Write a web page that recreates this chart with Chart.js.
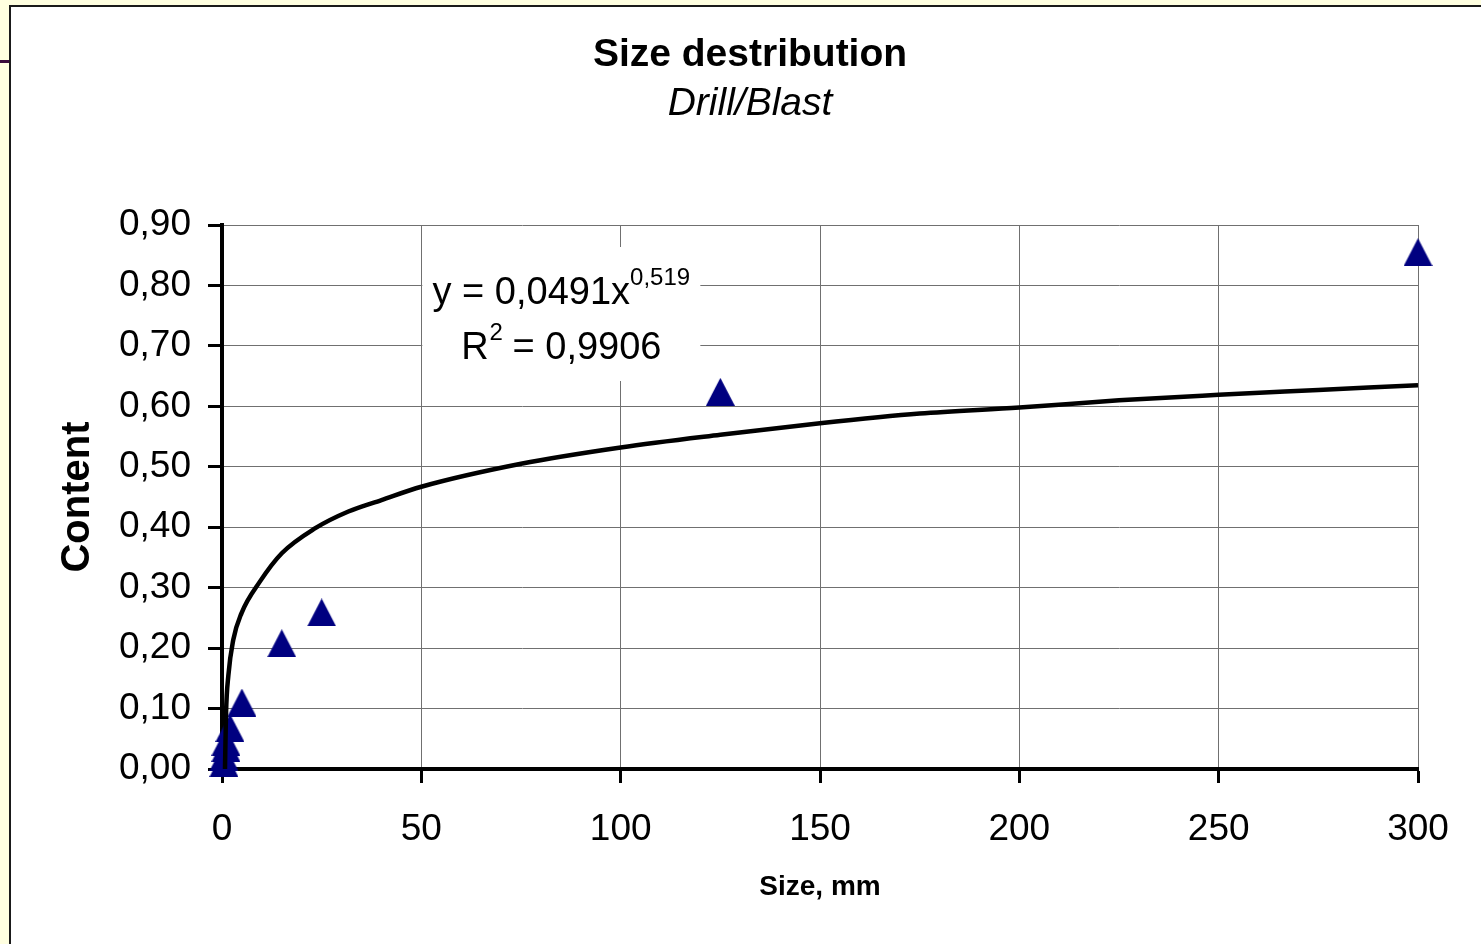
<!DOCTYPE html>
<html>
<head>
<meta charset="utf-8">
<title>Size destribution</title>
<script src="https://cdn.jsdelivr.net/npm/chart.js@4.4.1/dist/chart.umd.min.js"></script>
<style>
    html, body { margin: 0; padding: 0; width: 1481px; height: 944px; overflow: hidden; background: #ffffe0; }
    #sheet { position: absolute; left: 9px; top: 5px; right: -10px; bottom: -10px; background: #fff; border-left: 2px solid #1a1a1a; border-top: 2px solid #1a1a1a; }
    #mark { position: absolute; left: 0; top: 60px; width: 9px; height: 3px; background: #3b0b3b; }
    #sizeChart { position: absolute; left: 0; top: 0; }
</style>
</head>
<body>
<div id="mark"></div>
<div id="sheet"></div>
<canvas id="sizeChart" width="1481" height="944"></canvas>
<script>
// measured points: size (mm) and content
var sizeMm = [0.5, 0.5, 1, 1, 2, 5, 15, 25, 125, 300];
var content = [0.01, 0.02, 0.035, 0.045, 0.068, 0.11, 0.208, 0.259, 0.624, 0.855];

// power trend line as it is drawn in the picture
var trendX = [0.75, 1, 1.6, 2.8, 4.9, 9.5, 15, 23.3, 31.7, 40, 50, 75, 100, 125, 150, 175, 200, 225, 250, 275, 300];
var trendY = [0, 0.09, 0.155, 0.213, 0.258, 0.31, 0.357, 0.398, 0.426, 0.445, 0.467, 0.505, 0.532, 0.553, 0.572, 0.588, 0.598, 0.61, 0.619, 0.627, 0.635];

// axis ticks
var xTickValues = [0, 50, 100, 150, 200, 250, 300];
var yTickValues = [0, 0.1, 0.2, 0.3, 0.4, 0.5, 0.6, 0.7, 0.8, 0.9];

// trend line label
var eqMain = "y = 0,0491x";
var eqPower = "0,519";
var r2Main = "R";
var r2Power = "2";
var r2Value = " = 0,9906";

var fontFamily = "'Liberation Sans', Arial, sans-serif";
Chart.defaults.font.family = fontFamily;
Chart.defaults.color = "#000";

// triangle marker, centred on its box like the spreadsheet markers
var triangle = document.createElement("canvas");
triangle.width = 29;
triangle.height = 28;
var tctx = triangle.getContext("2d");
tctx.fillStyle = "#000080";
tctx.beginPath();
tctx.moveTo(14.5, 0);
tctx.lineTo(29, 28);
tctx.lineTo(0, 28);
tctx.closePath();
tctx.fill();

var toPoints = function (xs, ys) {
    return xs.map(function (x, i) {
        return { x: x, y: ys[i] };
    });
};

// hide the grid line that sits under the axis line
var gridColor = function (ctx) {
    return ctx.tick && ctx.tick.value === 0 ? "rgba(0,0,0,0)" : "#707070";
};

// white box with the trend equation
var trendLabel = {
    id: "trendLabel",
    beforeDatasetsDraw: function (chart) {
        var ctx = chart.ctx;
        var left = chart.scales.x.getPixelForValue(50) + 1;
        var top = chart.scales.y.getPixelForValue(0.9) + 22;
        var width = 278;
        var height = 134;
        var cx = left + width / 2;
        var big = "38px " + fontFamily;
        var small = "24px " + fontFamily;

        ctx.save();
        ctx.fillStyle = "#fff";
        ctx.fillRect(left, top, width, height);
        ctx.fillStyle = "#000";
        ctx.textBaseline = "alphabetic";
        ctx.textAlign = "left";

        ctx.font = big;
        var w1 = ctx.measureText(eqMain).width;
        ctx.font = small;
        var w2 = ctx.measureText(eqPower).width;
        var x1 = cx - (w1 + w2) / 2;
        ctx.font = big;
        ctx.fillText(eqMain, x1, top + 57);
        ctx.font = small;
        ctx.fillText(eqPower, x1 + w1, top + 38);

        ctx.font = big;
        var wr = ctx.measureText(r2Main).width;
        var wv = ctx.measureText(r2Value).width;
        ctx.font = small;
        var wp = ctx.measureText(r2Power).width;
        var x2 = cx - (wr + wp + wv) / 2;
        ctx.font = big;
        ctx.fillText(r2Main, x2, top + 112);
        ctx.fillText(r2Value, x2 + wr + wp, top + 112);
        ctx.font = small;
        ctx.fillText(r2Power, x2 + wr + 1, top + 93);
        ctx.restore();
    },
};

var ctx = document.getElementById("sizeChart").getContext("2d");
new Chart(ctx, {
    type: "scatter",
    data: {
        datasets: [
            {
                label: "Power trend",
                data: toPoints(trendX, trendY),
                showLine: true,
                borderColor: "#000",
                borderWidth: 4.5,
                pointRadius: 0,
                cubicInterpolationMode: "monotone",
            },
            {
                label: "Content",
                data: toPoints(sizeMm, content),
                pointStyle: triangle,
                pointRadius: 14,
                clip: false,
            },
        ],
    },
    options: {
        responsive: false,
        animation: false,
        devicePixelRatio: 1,
        layout: {
            padding: { left: 82, right: 63, top: 0, bottom: 0 },
        },
        plugins: {
            legend: { display: false },
            tooltip: { enabled: false },
            title: {
                display: true,
                text: "Size destribution",
                font: { size: 39, weight: "bold" },
                padding: { top: 31.6, bottom: 0 },
            },
            subtitle: {
                display: true,
                text: "Drill/Blast",
                color: "#000",
                font: { size: 39, style: "italic" },
                padding: { top: 2.2, bottom: 97.6 },
            },
        },
        scales: {
            x: {
                type: "linear",
                min: xTickValues[0],
                max: xTickValues[xTickValues.length - 1],
                afterBuildTicks: function (scale) {
                    scale.ticks = xTickValues.map(function (v) {
                        return { value: v };
                    });
                },
                afterFit: function (scale) {
                    scale.height = 175;
                },
                border: { color: "#000", width: 4 },
                grid: {
                    color: gridColor,
                    lineWidth: 1,
                    tickLength: 14,
                    tickColor: "#000",
                    tickWidth: 3,
                },
                ticks: {
                    font: { size: 37 },
                    padding: 25,
                    maxRotation: 0,
                    autoSkip: false,
                },
                title: {
                    display: true,
                    text: "Size, mm",
                    font: { size: 28, weight: "bold" },
                    padding: { top: 0, bottom: 40 },
                },
            },
            y: {
                type: "linear",
                min: yTickValues[0],
                max: yTickValues[yTickValues.length - 1],
                afterBuildTicks: function (scale) {
                    scale.ticks = yTickValues.map(function (v) {
                        return { value: v };
                    });
                },
                afterFit: function (scale) {
                    scale.width = 140;
                },
                border: { color: "#000", width: 4 },
                grid: {
                    color: gridColor,
                    lineWidth: 1,
                    tickLength: 14,
                    tickColor: "#000",
                    tickWidth: 3,
                },
                ticks: {
                    font: { size: 37 },
                    padding: 17,
                    callback: function (value) {
                        return value.toFixed(2).replace(".", ",");
                    },
                },
                title: {
                    display: true,
                    text: "Content",
                    font: { size: 40, weight: "bold" },
                    padding: { top: -28, bottom: 0 },
                },
            },
        },
    },
    plugins: [trendLabel],
});
</script>
</body>
</html>
